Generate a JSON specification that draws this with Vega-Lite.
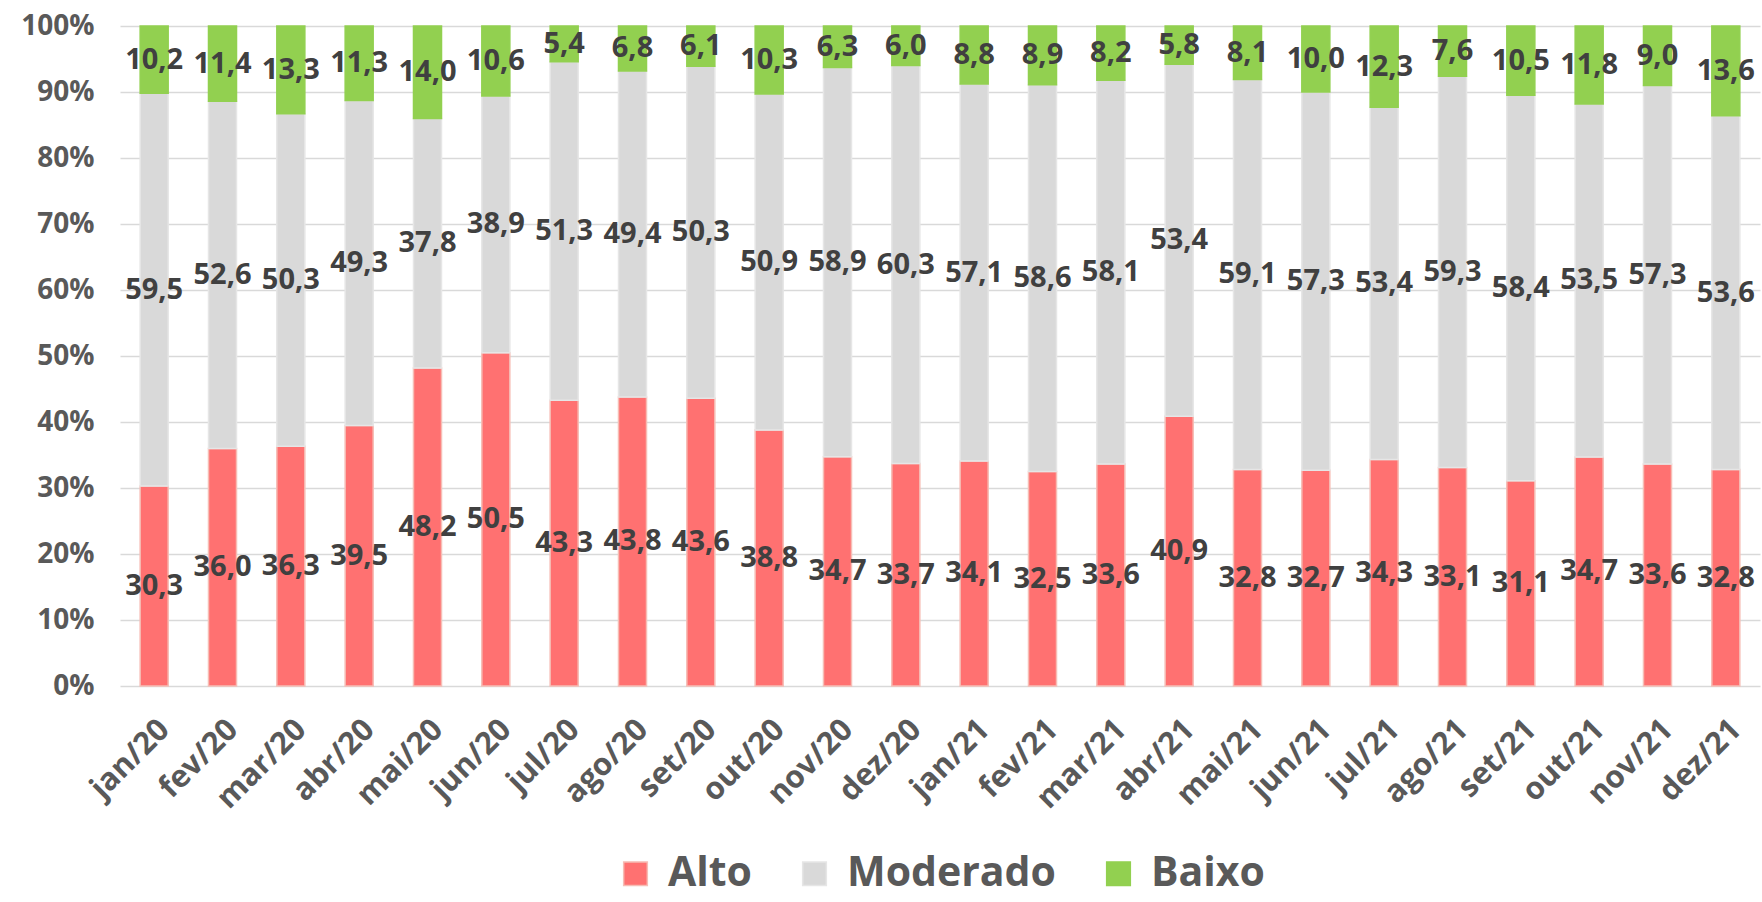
{
  "$schema": "https://vega.github.io/schema/vega-lite/v6.json",
  "autosize": "none",
  "width": 1640,
  "height": 660,
  "padding": {"left": 120, "top": 26, "right": 2, "bottom": 216},
  "background": "white",
  "config": {
    "locale": {"number": {"decimal": ",", "thousands": ".", "grouping": [3], "currency": ["R$", ""]}},
    "view": {"stroke": null},
    "font": "Open Sans",
    "legend": {"layout": {"bottom": {"anchor": "middle"}}}
  },
  "data": {
    "values": [
      {"mes": "jan/20", "nivel": "Alto", "k": 1, "v": 30.3}, {"mes": "jan/20", "nivel": "Moderado", "k": 2, "v": 59.5}, {"mes": "jan/20", "nivel": "Baixo", "k": 3, "v": 10.2},
      {"mes": "fev/20", "nivel": "Alto", "k": 1, "v": 36.0}, {"mes": "fev/20", "nivel": "Moderado", "k": 2, "v": 52.6}, {"mes": "fev/20", "nivel": "Baixo", "k": 3, "v": 11.4},
      {"mes": "mar/20", "nivel": "Alto", "k": 1, "v": 36.3}, {"mes": "mar/20", "nivel": "Moderado", "k": 2, "v": 50.3}, {"mes": "mar/20", "nivel": "Baixo", "k": 3, "v": 13.3},
      {"mes": "abr/20", "nivel": "Alto", "k": 1, "v": 39.5}, {"mes": "abr/20", "nivel": "Moderado", "k": 2, "v": 49.3}, {"mes": "abr/20", "nivel": "Baixo", "k": 3, "v": 11.3},
      {"mes": "mai/20", "nivel": "Alto", "k": 1, "v": 48.2}, {"mes": "mai/20", "nivel": "Moderado", "k": 2, "v": 37.8}, {"mes": "mai/20", "nivel": "Baixo", "k": 3, "v": 14.0},
      {"mes": "jun/20", "nivel": "Alto", "k": 1, "v": 50.5}, {"mes": "jun/20", "nivel": "Moderado", "k": 2, "v": 38.9}, {"mes": "jun/20", "nivel": "Baixo", "k": 3, "v": 10.6},
      {"mes": "jul/20", "nivel": "Alto", "k": 1, "v": 43.3}, {"mes": "jul/20", "nivel": "Moderado", "k": 2, "v": 51.3}, {"mes": "jul/20", "nivel": "Baixo", "k": 3, "v": 5.4},
      {"mes": "ago/20", "nivel": "Alto", "k": 1, "v": 43.8}, {"mes": "ago/20", "nivel": "Moderado", "k": 2, "v": 49.4}, {"mes": "ago/20", "nivel": "Baixo", "k": 3, "v": 6.8},
      {"mes": "set/20", "nivel": "Alto", "k": 1, "v": 43.6}, {"mes": "set/20", "nivel": "Moderado", "k": 2, "v": 50.3}, {"mes": "set/20", "nivel": "Baixo", "k": 3, "v": 6.1},
      {"mes": "out/20", "nivel": "Alto", "k": 1, "v": 38.8}, {"mes": "out/20", "nivel": "Moderado", "k": 2, "v": 50.9}, {"mes": "out/20", "nivel": "Baixo", "k": 3, "v": 10.3},
      {"mes": "nov/20", "nivel": "Alto", "k": 1, "v": 34.7}, {"mes": "nov/20", "nivel": "Moderado", "k": 2, "v": 58.9}, {"mes": "nov/20", "nivel": "Baixo", "k": 3, "v": 6.3},
      {"mes": "dez/20", "nivel": "Alto", "k": 1, "v": 33.7}, {"mes": "dez/20", "nivel": "Moderado", "k": 2, "v": 60.3}, {"mes": "dez/20", "nivel": "Baixo", "k": 3, "v": 6.0},
      {"mes": "jan/21", "nivel": "Alto", "k": 1, "v": 34.1}, {"mes": "jan/21", "nivel": "Moderado", "k": 2, "v": 57.1}, {"mes": "jan/21", "nivel": "Baixo", "k": 3, "v": 8.8},
      {"mes": "fev/21", "nivel": "Alto", "k": 1, "v": 32.5}, {"mes": "fev/21", "nivel": "Moderado", "k": 2, "v": 58.6}, {"mes": "fev/21", "nivel": "Baixo", "k": 3, "v": 8.9},
      {"mes": "mar/21", "nivel": "Alto", "k": 1, "v": 33.6}, {"mes": "mar/21", "nivel": "Moderado", "k": 2, "v": 58.1}, {"mes": "mar/21", "nivel": "Baixo", "k": 3, "v": 8.2},
      {"mes": "abr/21", "nivel": "Alto", "k": 1, "v": 40.9}, {"mes": "abr/21", "nivel": "Moderado", "k": 2, "v": 53.4}, {"mes": "abr/21", "nivel": "Baixo", "k": 3, "v": 5.8},
      {"mes": "mai/21", "nivel": "Alto", "k": 1, "v": 32.8}, {"mes": "mai/21", "nivel": "Moderado", "k": 2, "v": 59.1}, {"mes": "mai/21", "nivel": "Baixo", "k": 3, "v": 8.1},
      {"mes": "jun/21", "nivel": "Alto", "k": 1, "v": 32.7}, {"mes": "jun/21", "nivel": "Moderado", "k": 2, "v": 57.3}, {"mes": "jun/21", "nivel": "Baixo", "k": 3, "v": 10.0},
      {"mes": "jul/21", "nivel": "Alto", "k": 1, "v": 34.3}, {"mes": "jul/21", "nivel": "Moderado", "k": 2, "v": 53.4}, {"mes": "jul/21", "nivel": "Baixo", "k": 3, "v": 12.3},
      {"mes": "ago/21", "nivel": "Alto", "k": 1, "v": 33.1}, {"mes": "ago/21", "nivel": "Moderado", "k": 2, "v": 59.3}, {"mes": "ago/21", "nivel": "Baixo", "k": 3, "v": 7.6},
      {"mes": "set/21", "nivel": "Alto", "k": 1, "v": 31.1}, {"mes": "set/21", "nivel": "Moderado", "k": 2, "v": 58.4}, {"mes": "set/21", "nivel": "Baixo", "k": 3, "v": 10.5},
      {"mes": "out/21", "nivel": "Alto", "k": 1, "v": 34.7}, {"mes": "out/21", "nivel": "Moderado", "k": 2, "v": 53.5}, {"mes": "out/21", "nivel": "Baixo", "k": 3, "v": 11.8},
      {"mes": "nov/21", "nivel": "Alto", "k": 1, "v": 33.6}, {"mes": "nov/21", "nivel": "Moderado", "k": 2, "v": 57.3}, {"mes": "nov/21", "nivel": "Baixo", "k": 3, "v": 9.0},
      {"mes": "dez/21", "nivel": "Alto", "k": 1, "v": 32.8}, {"mes": "dez/21", "nivel": "Moderado", "k": 2, "v": 53.6}, {"mes": "dez/21", "nivel": "Baixo", "k": 3, "v": 13.6}
    ]
  },
  "encoding": {
    "x": {
      "field": "mes", "type": "nominal", "sort": null,
      "scale": {"paddingInner": 0.59, "paddingOuter": 0.295},
      "axis": {
        "title": null, "labelAngle": -45, "labelFont": "Open Sans", "labelFontWeight": "bold",
        "labelFontSize": 31, "labelColor": "#595959", "ticks": false, "domain": false,
        "labelPadding": 28, "grid": false
      }
    }
  },
  "layer": [
    {
      "mark": {"type": "bar", "strokeWidth": 1.5},
      "encoding": {
        "y": {
          "field": "v", "type": "quantitative", "stack": "normalize",
          "scale": {"domain": [0, 1], "nice": false},
          "axis": {
            "title": null, "format": ".0%", "values": [0, 0.1, 0.2, 0.3, 0.4, 0.5, 0.6, 0.7, 0.8, 0.9, 1],
            "labelFont": "Open Sans", "labelFontWeight": "bold", "labelFontSize": 28, "labelColor": "#595959",
            "ticks": false, "domain": false, "labelPadding": 26,
            "grid": true, "gridColor": "#D9D9D9", "gridWidth": 1.5
          }
        },
        "order": {"field": "k", "type": "quantitative"},
        "color": {
          "field": "nivel", "type": "nominal",
          "scale": {"domain": ["Alto", "Moderado", "Baixo"], "range": ["#FF7171", "#D9D9D9", "#92D050"]},
          "legend": {
            "title": null, "orient": "bottom", "direction": "horizontal", "offset": 38,
            "symbolType": "square", "symbolSize": 560, "symbolStrokeWidth": 1.5,
            "labelFont": "Open Sans", "labelFontWeight": "bold", "labelFontSize": 41, "labelColor": "#595959",
            "labelOffset": 12, "columnPadding": 42, "labelLimit": 400
          }
        },
        "stroke": {
          "field": "nivel", "type": "nominal",
          "scale": {"domain": ["Alto", "Moderado", "Baixo"], "range": ["#F6BDB5", "#E6E6E6", "#92D050"]}
        }
      }
    },
    {
      "mark": {"type": "text", "font": "Open Sans", "fontWeight": "bold", "fontSize": 29, "color": "#404040", "baseline": "middle", "align": "center"},
      "encoding": {
        "y": {"field": "v", "type": "quantitative", "stack": "normalize", "bandPosition": 0.5},
        "order": {"field": "k", "type": "quantitative"},
        "text": {"field": "v", "type": "quantitative", "format": ".1f"}
      }
    }
  ]
}
